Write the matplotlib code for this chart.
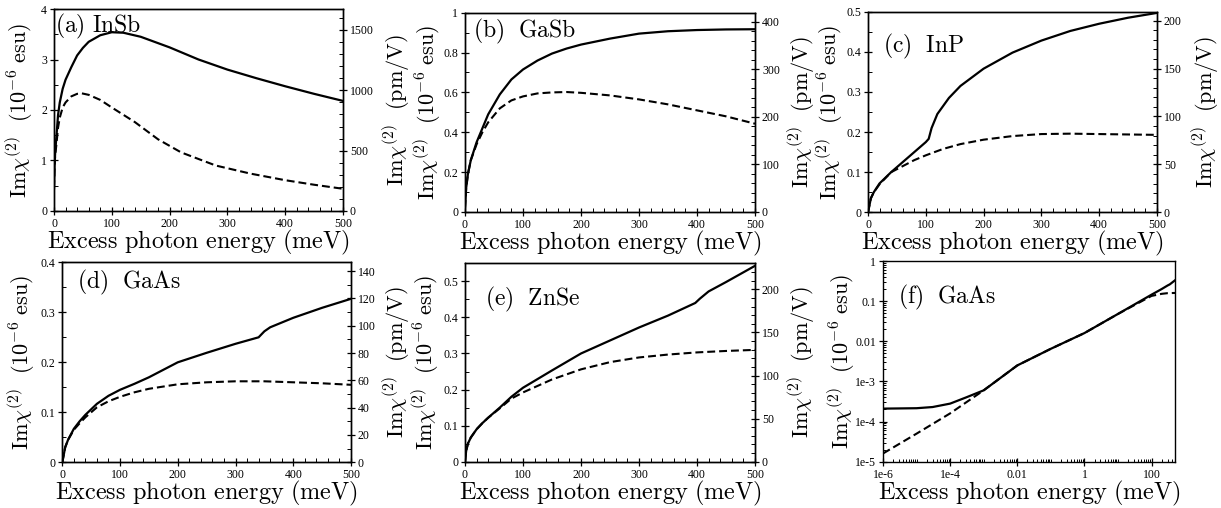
import matplotlib
matplotlib.use("Agg")
import matplotlib.pyplot as plt
from matplotlib.ticker import MultipleLocator, FixedLocator, FixedFormatter, FuncFormatter, LogLocator, NullFormatter

plt.rcParams['mathtext.fontset'] = 'cm'
plt.rcParams['font.family'] = 'Liberation Serif'
plt.rcParams['axes.linewidth'] = 1.0

# (a) InSb
e_insb_s = [0, 1, 2, 4, 7, 10, 15, 20, 30, 40, 50, 60, 80, 100, 120, 150, 200, 250, 300, 350, 400, 450, 500]
insb_s = [0.45, 0.9, 1.15, 1.45, 1.9, 2.15, 2.42, 2.6, 2.85, 3.08, 3.23, 3.35, 3.48, 3.54, 3.53, 3.45, 3.24, 3.0, 2.8, 2.63, 2.47, 2.32, 2.18]
e_insb_d = [0, 1, 2, 4, 7, 10, 15, 20, 30, 40, 48, 60, 80, 100, 140, 180, 220, 280, 340, 400, 450, 500]
insb_d = [0.45, 0.9, 1.1, 1.3, 1.65, 1.85, 2.05, 2.15, 2.27, 2.32, 2.33, 2.3, 2.2, 2.05, 1.76, 1.42, 1.16, 0.9, 0.74, 0.61, 0.52, 0.44]

# (b) GaSb
e_gasb = [0, 2, 5, 10, 20, 30, 40, 60, 80, 100, 125, 150, 175, 200, 250, 300, 350, 400, 450, 500]
gasb_s = [0.02, 0.12, 0.19, 0.26, 0.35, 0.42, 0.49, 0.59, 0.665, 0.715, 0.76, 0.795, 0.82, 0.84, 0.87, 0.895, 0.907, 0.913, 0.916, 0.917]
gasb_d = [0.02, 0.12, 0.19, 0.26, 0.34, 0.40, 0.45, 0.52, 0.56, 0.58, 0.595, 0.60, 0.602, 0.598, 0.585, 0.565, 0.54, 0.51, 0.48, 0.443]

# (c) InP
e_inp_s = [0, 5, 10, 20, 40, 60, 80, 100, 105, 110, 120, 140, 160, 200, 250, 300, 350, 400, 450, 500]
inp_s = [0, 0.035, 0.05, 0.072, 0.1, 0.125, 0.15, 0.175, 0.183, 0.21, 0.245, 0.285, 0.315, 0.358, 0.398, 0.428, 0.452, 0.47, 0.485, 0.497]
e_inp_d = [0, 5, 10, 20, 40, 60, 80, 100, 130, 160, 200, 250, 300, 350, 400, 450, 500]
inp_d = [0, 0.035, 0.05, 0.07, 0.1, 0.115, 0.13, 0.142, 0.158, 0.17, 0.181, 0.19, 0.195, 0.196, 0.195, 0.194, 0.193]

# (d) GaAs
e_gaas_s = [0, 5, 10, 20, 30, 40, 60, 80, 100, 125, 150, 200, 250, 300, 340, 350, 360, 400, 450, 500]
gaas_s = [0, 0.03, 0.045, 0.067, 0.082, 0.095, 0.117, 0.133, 0.145, 0.157, 0.17, 0.2, 0.219, 0.237, 0.25, 0.262, 0.27, 0.289, 0.309, 0.327]
e_gaas_d = [0, 5, 10, 20, 30, 40, 60, 80, 100, 125, 150, 200, 250, 300, 350, 400, 450, 500]
gaas_d = [0, 0.03, 0.045, 0.065, 0.078, 0.09, 0.11, 0.122, 0.131, 0.14, 0.147, 0.156, 0.16, 0.162, 0.162, 0.16, 0.158, 0.155]

# (e) ZnSe
e_znse_s = [0, 2, 5, 10, 20, 30, 40, 60, 80, 100, 150, 200, 250, 300, 350, 397, 405, 420, 450, 500]
znse_s = [0, 0.03, 0.05, 0.067, 0.09, 0.107, 0.122, 0.15, 0.18, 0.205, 0.253, 0.3, 0.336, 0.372, 0.405, 0.44, 0.452, 0.472, 0.498, 0.543]
e_znse_d = [0, 2, 5, 10, 20, 30, 40, 60, 80, 100, 150, 200, 250, 300, 350, 400, 450, 500]
znse_d = [0, 0.03, 0.05, 0.067, 0.09, 0.107, 0.122, 0.148, 0.175, 0.192, 0.228, 0.256, 0.276, 0.289, 0.297, 0.303, 0.307, 0.31]

# (f) GaAs, log-log
e_log_s = [1e-6, 1e-5, 3e-5, 1e-4, 3e-4, 1e-3, 1e-2, 1e-1, 1, 10, 100, 200, 300, 350, 500]
log_s = [2.1e-4, 2.15e-4, 2.3e-4, 2.8e-4, 4.0e-4, 6.0e-4, 2.5e-3, 6.5e-3, 0.016, 0.048, 0.145, 0.2, 0.245, 0.262, 0.33]
e_log_d = [1e-6, 1e-5, 1e-4, 1e-3, 1e-2, 1e-1, 1, 10, 100, 200, 300, 500]
log_d = [1.6e-5, 5e-5, 1.6e-4, 6e-4, 2.5e-3, 6.5e-3, 0.016, 0.048, 0.135, 0.152, 0.158, 0.16]

W, H = 1221, 508
XLAB = 17.5
YLAB = 16
TITLE = 17
TICK = 8.5
DASH = (3.8, 1.9)
left_lab = r'$\mathrm{Im}\chi^{(2)}\ \ (10^{-6}\ \mathrm{esu})$'
right_lab = r'$\mathrm{Im}\chi^{(2)}\ \ (\mathrm{pm/V})$'
x_lab = r'$\mathrm{Excess\ photon\ energy\ (meV)}$'

fig = plt.figure(figsize=(W / 100, H / 100), dpi=100)


def make_axes(x0, x1, y0, y1):
    return fig.add_axes([x0 / W, 1 - y1 / H, (x1 - x0) / W, (y1 - y0) / H])


def style(ax):
    ax.tick_params(which='major', direction='inout', length=6, width=0.9, labelsize=TICK, pad=2)
    ax.tick_params(which='minor', direction='in', length=3, width=0.7)


fmt = FuncFormatter(lambda v, p: '%g' % v)


def label_axes(ax, box, lx):
    ax.set_xlabel(x_lab, fontsize=XLAB)
    ax.xaxis.set_label_coords(0.5, -17 / (box[3] - box[2]))
    ax.set_ylabel(left_lab, fontsize=YLAB)
    ax.yaxis.set_label_coords(-lx / (box[1] - box[0]), 0.5)


def lin_panel(box, es, s, ed, d, ytop, ymaj, ymin, rtop, rmaj, rmin, title, txy, lx, rx):
    ax = make_axes(*box)
    ax.plot(es, s, color='black', lw=1.6)
    ax.plot(ed, d, color='black', lw=1.5, ls=(0, DASH))
    ax.set_xlim(0, 500)
    ax.set_ylim(0, ytop)
    ax.xaxis.set_major_locator(MultipleLocator(100))
    ax.xaxis.set_minor_locator(MultipleLocator(20))
    ax.yaxis.set_major_locator(MultipleLocator(ymaj))
    ax.yaxis.set_minor_locator(MultipleLocator(ymin))
    ax.xaxis.set_major_formatter(fmt)
    ax.yaxis.set_major_formatter(fmt)
    style(ax)
    label_axes(ax, box, lx)
    ax.text(txy[0], txy[1], title, transform=ax.transAxes, fontsize=TITLE, va='top', ha='left')
    ax2 = ax.twinx()
    ax2.set_ylim(0, rtop)
    ax2.yaxis.set_major_locator(MultipleLocator(rmaj))
    ax2.yaxis.set_minor_locator(MultipleLocator(rmin))
    ax2.yaxis.set_major_formatter(fmt)
    style(ax2)
    ax2.set_ylabel(right_lab, fontsize=YLAB)
    ax2.yaxis.set_label_coords(1 + rx / (box[1] - box[0]), 0.5)
    return ax


lin_panel((54, 343, 9, 211), e_insb_s, insb_s, e_insb_d, insb_d, 4, 1, 0.5, 1674, 500, 100,
          r'$\mathrm{(a)\ InSb}$', (0.005, 0.985), 19, 38)
lin_panel((465, 755, 12.7, 212), e_gasb, gasb_s, e_gasb, gasb_d, 1, 0.2, 0.1, 418.5, 100, 20,
          r'$\mathrm{(b)\ \ GaSb}$', (0.028, 0.98), 22, 31)
lin_panel((868, 1157, 11.7, 212.3), e_inp_s, inp_s, e_inp_d, inp_d, 0.5, 0.1, 0.05, 209.3, 50, 10,
          r'$\mathrm{(c)\ \ InP}$', (0.052, 0.9), 23, 33)
lin_panel((62.3, 351, 262.3, 462.3), e_gaas_s, gaas_s, e_gaas_d, gaas_d, 0.4, 0.1, 0.05, 146.5, 20, 10,
          r'$\mathrm{(d)\ \ GaAs}$', (0.05, 0.97), 25, 30)
lin_panel((465, 755, 263.3, 461.7), e_znse_s, znse_s, e_znse_d, znse_d, 0.55, 0.1, 0.05, 230.2, 50, 10,
          r'$\mathrm{(e)\ \ ZnSe}$', (0.069, 0.89), 24, 31)

# (f) log-log panel
box = (883, 1175, 261, 461.7)
ax = make_axes(*box)
ax.plot(e_log_s, log_s, color='black', lw=1.6)
ax.plot(e_log_d, log_d, color='black', lw=1.5, ls=(0, DASH))
ax.set_xscale('log')
ax.set_yscale('log')
ax.set_xlim(1e-6, 500)
ax.set_ylim(1e-5, 1)
ax.xaxis.set_major_locator(FixedLocator([1e-6, 1e-4, 1e-2, 1, 100]))
ax.xaxis.set_major_formatter(FixedFormatter(['1e-6', '1e-4', '0.01', '1', '100']))
ax.xaxis.set_minor_locator(LogLocator(base=10, subs=(1, 2, 3, 4, 5, 6, 7, 8, 9), numticks=30))
ax.xaxis.set_minor_formatter(NullFormatter())
ax.yaxis.set_major_locator(FixedLocator([1e-5, 1e-4, 1e-3, 1e-2, 0.1, 1]))
ax.yaxis.set_major_formatter(FixedFormatter(['1e-5', '1e-4', '1e-3', '0.01', '0.1', '1']))
ax.yaxis.set_minor_locator(LogLocator(base=10, subs=(2, 3, 4, 5, 6, 7, 8, 9), numticks=30))
ax.yaxis.set_minor_formatter(NullFormatter())
style(ax)
ax.tick_params(which='minor', length=2)
label_axes(ax, box, 26)
ax.text(0.051, 0.89, r'$\mathrm{(f)\ \ GaAs}$', transform=ax.transAxes, fontsize=TITLE, va='top', ha='left')

fig.savefig('out.png', dpi=100)
